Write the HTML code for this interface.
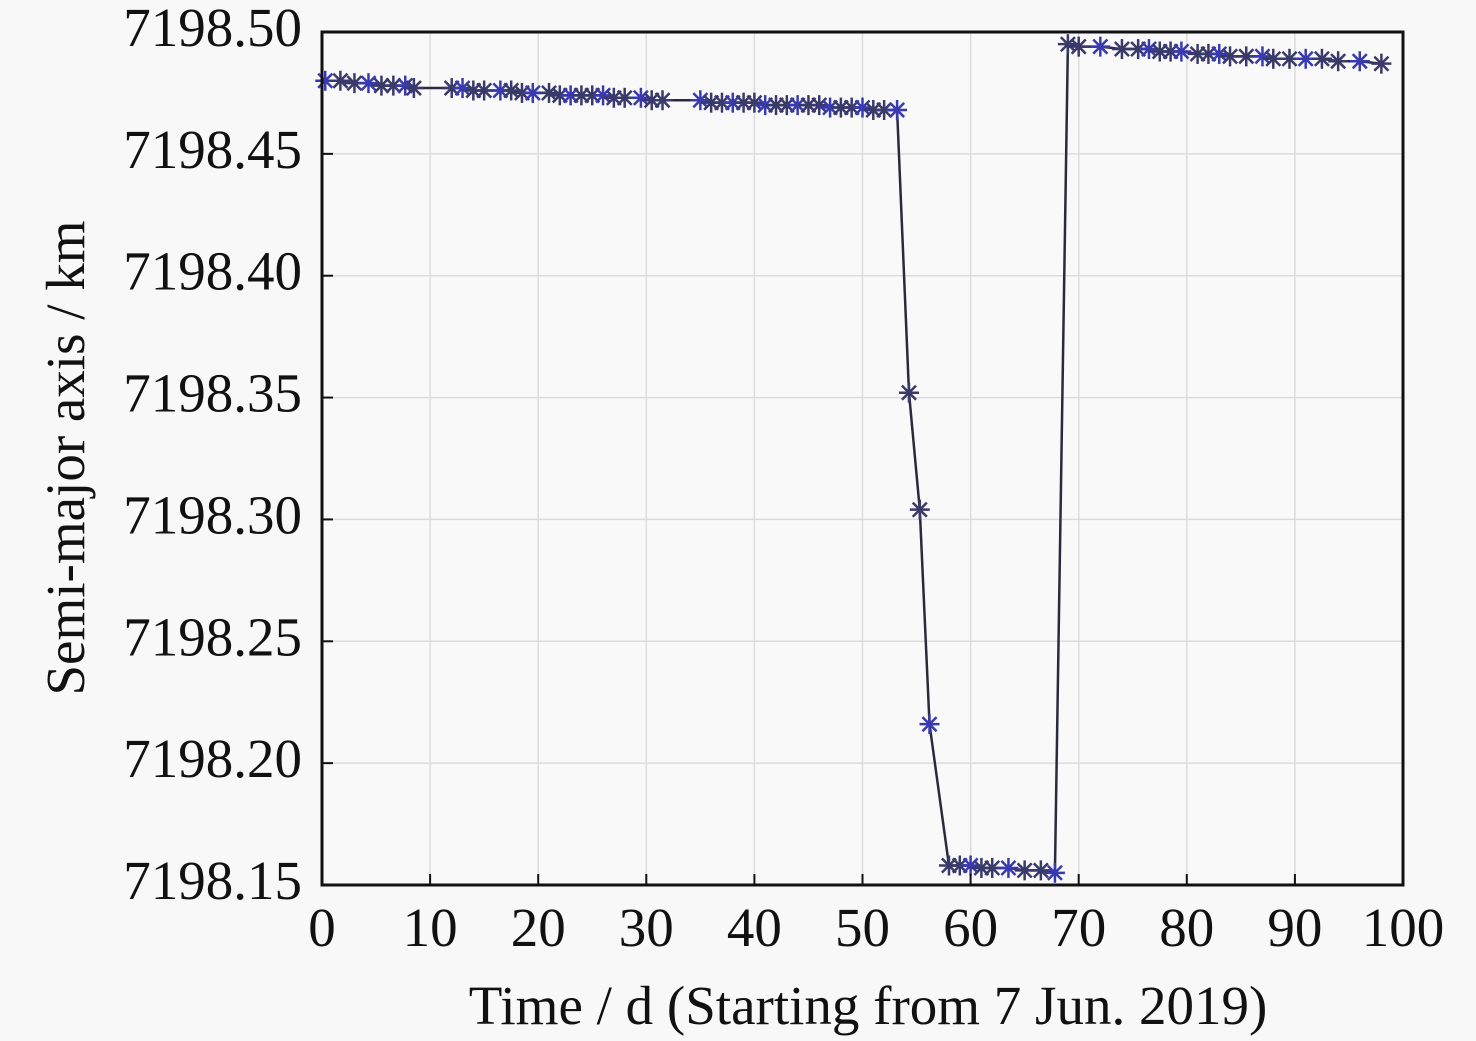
<!DOCTYPE html>
<html><head><meta charset="utf-8"><style>
html,body{margin:0;padding:0;background:#f8f8f8;}
svg{display:block;font-family:"Liberation Serif",serif;}
</style></head><body>
<svg id="chart" width="1476" height="1041" viewBox="0 0 1476 1041" xmlns="http://www.w3.org/2000/svg">
<rect width="1476" height="1041" fill="#f8f8f8"/>
<g id="grid"></g>
<g id="series"></g>
<g id="markers"></g>
<g id="axes"></g>
<text x="868" y="1024" font-size="55" text-anchor="middle" fill="#111">Time / d (Starting from 7 Jun. 2019)</text>
<text transform="translate(84,458) rotate(-90)" font-size="55" text-anchor="middle" fill="#111">Semi-major axis / km</text>
</svg>
<script>
const days = [0.3,1.7,3,4.3,5.5,6.6,7.7,8.5,12,13,14,15,16.5,17.5,18.5,19.5,21,22,23,24,25,26,27,28,29.5,30.5,31.5,35,36,37,38,39,40,41,42,43,44,45,46,47,48,49,50,51,52,53.2,54.3,55.3,56.2,58,59,60,61,62,63.5,65,66.5,67.8,69,70,72,74,75.5,76.5,77.5,78.5,79.5,81,82,83,84,85.5,87,88,89.5,91,92.5,94,96,98];
const values = [7198.480,7198.480,7198.479,7198.479,7198.478,7198.478,7198.478,7198.477,7198.477,7198.477,7198.476,7198.476,7198.476,7198.476,7198.475,7198.475,7198.475,7198.474,7198.474,7198.474,7198.474,7198.474,7198.473,7198.473,7198.473,7198.472,7198.472,7198.472,7198.471,7198.471,7198.471,7198.471,7198.471,7198.470,7198.470,7198.470,7198.470,7198.470,7198.470,7198.469,7198.469,7198.469,7198.469,7198.468,7198.468,7198.468,7198.352,7198.304,7198.216,7198.158,7198.158,7198.158,7198.157,7198.157,7198.157,7198.156,7198.156,7198.155,7198.495,7198.494,7198.494,7198.493,7198.493,7198.493,7198.492,7198.492,7198.492,7198.491,7198.491,7198.491,7198.490,7198.490,7198.490,7198.489,7198.489,7198.489,7198.489,7198.488,7198.488,7198.487];
const xTicks = [0,10,20,30,40,50,60,70,80,90,100];
const yTicks = [7198.15,7198.20,7198.25,7198.30,7198.35,7198.40,7198.45,7198.50];
const yTickLabels = ["7198.15","7198.20","7198.25","7198.30","7198.35","7198.40","7198.45","7198.50"];

const L=322,R=1403,T=32,B=885;
const sx=d=>L+(d-0)/(100-0)*(R-L);
const sy=v=>B-(v-7198.15)/(7198.50-7198.15)*(B-T);
const NS="http://www.w3.org/2000/svg";
function mk(tag,attrs,parent){const e=document.createElementNS(NS,tag);for(const k in attrs)e.setAttribute(k,attrs[k]);parent.appendChild(e);return e;}
const grid=document.getElementById('grid'),axes=document.getElementById('axes'),ser=document.getElementById('series'),mks=document.getElementById('markers');
mk('rect',{x:L,y:T,width:R-L,height:B-T,fill:'#f9f9f9'},grid);
xTicks.forEach((t,i)=>{
  const x=sx(t);
  if(i>0&&i<xTicks.length-1){const g=mk('line',{x1:x,x2:x,y1:T,y2:B,stroke:'#dcdcdc','stroke-width':1.5},grid);}
  const tk=mk('line',{x1:x,x2:x,y1:B,y2:B-11,stroke:'#111','stroke-width':2},axes);
  
  const tx=mk('text',{x:x,y:946,'font-size':55,'text-anchor':'middle',fill:'#111'},axes);
  
  tx.textContent=String(t);
});
yTicks.forEach((t,i)=>{
  const y=sy(t);
  if(i>0&&i<yTicks.length-1){const g=mk('line',{x1:L,x2:R,y1:y,y2:y,stroke:'#dcdcdc','stroke-width':1.5},grid);}
  const tk=mk('line',{x1:L,x2:L+11,y1:y,y2:y,stroke:'#111','stroke-width':2},axes);
  
  const tx=mk('text',{x:302,y:y+14,'font-size':55,'text-anchor':'end',fill:'#111'},axes);
  
  tx.textContent=yTickLabels[i];
});
const frame=mk('rect',{x:L,y:T,width:R-L,height:B-T,fill:'none',stroke:'#111','stroke-width':3},axes);

const pts=days.map((d,i)=>sx(d)+','+sy(values[i])).join(' ');
const pl=mk('polyline',{points:pts,fill:'none',stroke:'#2a2a3e','stroke-width':2.5},ser);

days.forEach((d,i)=>{
  const cx=sx(d),cy=sy(values[i]),r=10;
  const g=mk('g',{stroke:i%3===0?'#3a3ab0':'#3a3a6a','stroke-width':2.5},mks);
  
  for(let a=0;a<4;a++){const th=a*Math.PI/4;mk('line',{x1:cx-r*Math.cos(th),y1:cy-r*Math.sin(th),x2:cx+r*Math.cos(th),y2:cy+r*Math.sin(th)},g);}
});
</script>
</body></html>
